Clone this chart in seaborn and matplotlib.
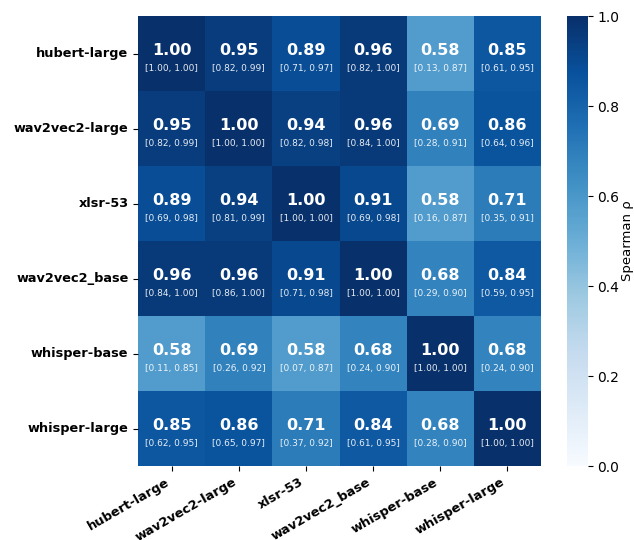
import numpy as np
import pandas as pd
import matplotlib
matplotlib.use("Agg")
import matplotlib.pyplot as plt
import seaborn as sns

models = ["hubert-large", "wav2vec2-large", "xlsr-53", "wav2vec2_base", "whisper-base", "whisper-large"]

rho = [
    [1.00, 0.95, 0.89, 0.96, 0.58, 0.85],
    [0.95, 1.00, 0.94, 0.96, 0.69, 0.86],
    [0.89, 0.94, 1.00, 0.91, 0.58, 0.71],
    [0.96, 0.96, 0.91, 1.00, 0.68, 0.84],
    [0.58, 0.69, 0.58, 0.68, 1.00, 0.68],
    [0.85, 0.86, 0.71, 0.84, 0.68, 1.00],
]
ci_low = [
    [1.00, 0.82, 0.71, 0.82, 0.13, 0.61],
    [0.82, 1.00, 0.82, 0.84, 0.28, 0.64],
    [0.69, 0.81, 1.00, 0.69, 0.16, 0.35],
    [0.84, 0.86, 0.71, 1.00, 0.29, 0.59],
    [0.11, 0.26, 0.07, 0.24, 1.00, 0.24],
    [0.62, 0.65, 0.37, 0.61, 0.28, 1.00],
]
ci_high = [
    [1.00, 0.99, 0.97, 1.00, 0.87, 0.95],
    [0.99, 1.00, 0.98, 1.00, 0.91, 0.96],
    [0.98, 0.99, 1.00, 0.98, 0.87, 0.91],
    [1.00, 1.00, 0.98, 1.00, 0.90, 0.95],
    [0.85, 0.92, 0.87, 0.90, 1.00, 0.90],
    [0.95, 0.97, 0.92, 0.95, 0.90, 1.00],
]

df = pd.DataFrame(rho, index=models, columns=models)

fig = plt.figure(figsize=(6.34, 5.4), dpi=100)
ax = fig.add_axes([0.218, 0.137, 0.635, 0.833])
cax = fig.add_axes([0.894, 0.137, 0.033, 0.833])

sns.heatmap(df, ax=ax, cbar_ax=cax, cmap="Blues", vmin=0, vmax=1,
            annot=False, square=False)

n = len(models)
for i in range(n):
    for j in range(n):
        ax.text(j + 0.5, i + 0.46, f"{rho[i][j]:.2f}", ha="center", va="center",
                color="white", fontsize=11.5, fontweight="bold")
        ax.text(j + 0.5, i + 0.70, f"[{ci_low[i][j]:.2f}, {ci_high[i][j]:.2f}]",
                ha="center", va="center", color="white", alpha=0.9, fontsize=6.5)

ax.set_xticklabels(models, rotation=30, ha="right",
                   fontweight="bold", fontsize=9.3)
ax.set_yticklabels(models, rotation=0, fontweight="bold", fontsize=9.3)
ax.set_xlabel("")
ax.set_ylabel("")

cax.set_ylabel("Spearman ρ", fontsize=9.5, labelpad=1)
cax.tick_params(labelsize=10)

fig.savefig("out.png", dpi=100)
